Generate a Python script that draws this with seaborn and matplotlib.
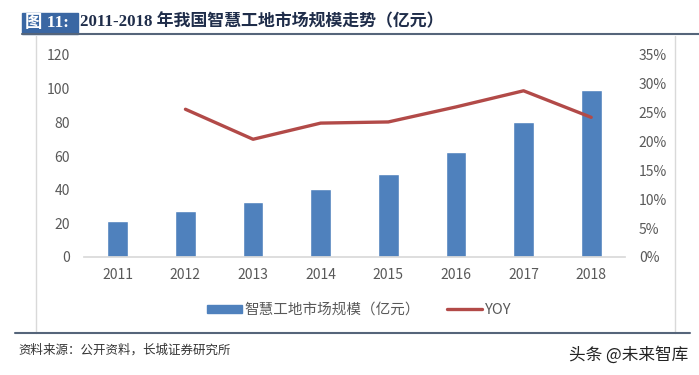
import numpy as np
import pandas as pd
import matplotlib
matplotlib.use('Agg')
import matplotlib.pyplot as plt
from matplotlib.lines import Line2D
from matplotlib.patches import Rectangle
import seaborn as sns

years = [2011, 2012, 2013, 2014, 2015, 2016, 2017, 2018]
market = [21.5, 27.2, 32.8, 40.2, 49.6, 62.3, 80.1, 99.4]
yoy = [np.nan, 25.6, 20.4, 23.2, 23.4, 26.0, 28.8, 24.2]

bar_label = '智慧工地市场规模（亿元）'
line_label = 'YOY'
title_tag = '图 11:'
title_text = '2011-2018 年我国智慧工地市场规模走势（亿元）'
source_text = '资料来源：公开资料，长城证券研究所'
mark_text = '头条 @未来智库'

df = pd.DataFrame({'year': years, 'market': market, 'yoy': yoy})

sns.set_theme(style='white')
plt.rcParams['font.family'] = ['Noto Sans CJK SC', 'DejaVu Sans']

blue = '#4f81bd'
red = '#b24a48'
grey = '#595959'

fig = plt.figure(figsize=(6.99, 3.75), dpi=100)
ax = fig.add_axes([84 / 699, 1 - 257 / 375, (625 - 84) / 699, (257 - 55) / 375])
ax2 = ax.twinx()

sns.barplot(data=df, x='year', y='market', native_scale=True, width=0.305,
            color=blue, saturation=1, ax=ax)
sns.lineplot(data=df, x='year', y='yoy', color=red, lw=2.4, ax=ax2)

ax.set_xlim(2010.5, 2018.5)
ax.set_ylim(0, 120)
ax.set_yticks(range(0, 121, 20))
ax.set_xticks(years)
ax.set_xticklabels([str(y) for y in years])
ax2.set_ylim(0, 35)
ax2.set_yticks(range(0, 36, 5))
ax2.set_yticklabels([f'{v}%' for v in range(0, 36, 5)])
ax.set_xlabel('')
ax.set_ylabel('')
ax2.set_ylabel('')

for a in (ax, ax2):
    for s in a.spines.values():
        s.set_visible(False)
    a.tick_params(length=0, labelsize=10, labelcolor=grey)
    a.grid(False)
ax.spines['bottom'].set_visible(True)
ax.spines['bottom'].set_color('#d9d9d9')
ax.tick_params(axis='y', pad=10)
ax.tick_params(axis='x', pad=8)
ax2.tick_params(axis='y', pad=10)

handles = [Rectangle((0, 0), 1, 1, color=blue),
           Line2D([], [], color=red, lw=2.4)]
fig.legend(handles, [bar_label, line_label], loc='center',
           bbox_to_anchor=(359 / 699, 1 - 310 / 375), ncol=2, frameon=False,
           fontsize=10.5, labelcolor=grey, handlelength=2.4, handleheight=0.5,
           handletextpad=0.2, columnspacing=1.8)

# chart frame, title bar and footer
fig.add_artist(Line2D([36 / 699, 36 / 699], [1 - 36 / 375, 1 - 333 / 375], color='#d9d9d9', lw=1))
fig.add_artist(Line2D([675 / 699, 675 / 699], [1 - 36 / 375, 1 - 333 / 375], color='#d9d9d9', lw=1))
fig.add_artist(Rectangle((22 / 699, 1 - 34 / 375), 56 / 699, 21 / 375, color='#3a67a3',
                         transform=fig.transFigure))
fig.add_artist(Line2D([22 / 699, 1], [1 - 34 / 375, 1 - 34 / 375], color='#55657a', lw=1.5))
fig.add_artist(Line2D([15 / 699, 690 / 699], [1 - 333 / 375, 1 - 333 / 375], color='#55657a', lw=1.5))

fig.text(25 / 699, 1 - 23 / 375, title_tag, color='white', fontsize=12.5, fontweight='bold',
         va='center', ha='left', family=['Liberation Serif', 'Noto Sans CJK SC'])
fig.text(80 / 699, 1 - 22 / 375, title_text, color='#1f2d4a', fontsize=12.2, fontweight='bold',
         va='center', ha='left', family=['Liberation Serif', 'Noto Sans CJK SC'])
fig.text(18 / 699, 1 - 350 / 375, source_text, color='#333333', fontsize=9, style='italic',
         va='center', ha='left')
fig.text(688 / 699, 1 - 355 / 375, mark_text, color='#222222', fontsize=12,
         va='center', ha='right')

fig.savefig('out.png', dpi=100)
